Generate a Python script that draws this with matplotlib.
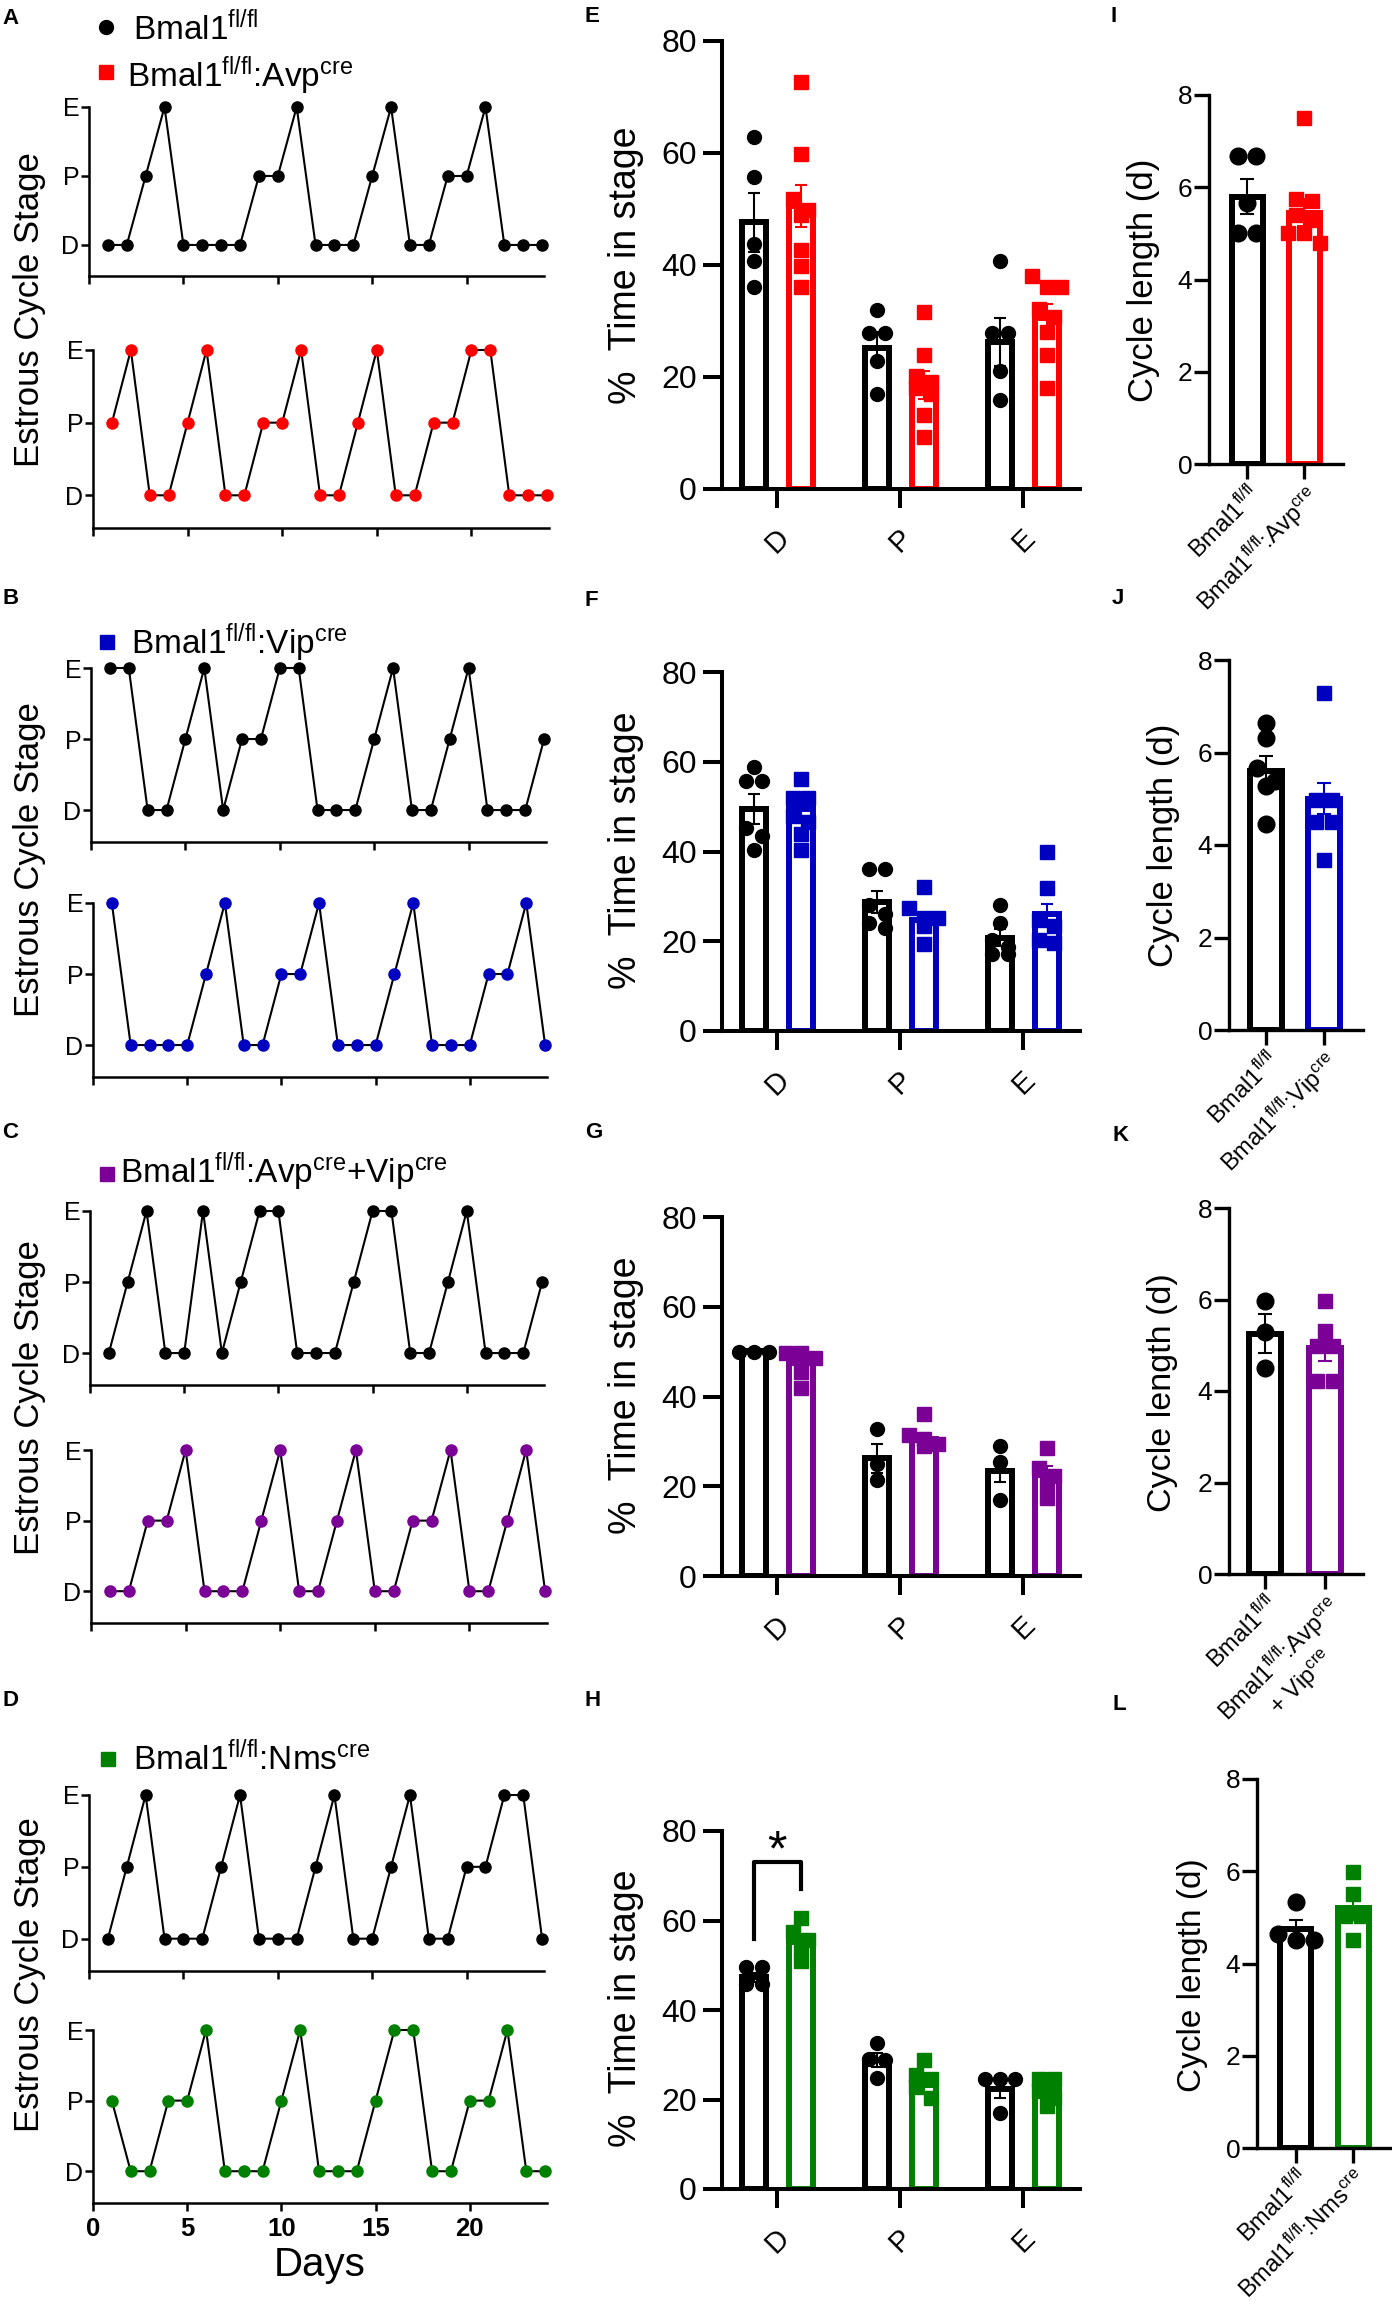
import numpy as np
import matplotlib
matplotlib.use("Agg")
import matplotlib.pyplot as plt
from matplotlib.lines import Line2D

plt.rcParams['font.family'] = ['Liberation Sans', 'DejaVu Sans']
plt.rcParams['mathtext.fontset'] = 'custom'
plt.rcParams['mathtext.rm'] = 'Liberation Sans'
plt.rcParams['mathtext.default'] = 'regular'

W, H, DPI = 1392, 2318, 100

RED = '#ff0000'
BLUE = '#0000c0'
PURPLE = '#7a0096'
GREEN = '#008000'

# daily estrous stage, days 1..24 (A-D)
days = np.arange(1, 25)
stage_level = {'D': 0, 'P': 1, 'E': 2}
stage_a_ctrl = "DDPEDDDDPPEDDDPEDDPPEDDD"
stage_a_ko = "PEDDPEDDPPEDDPEDDPPEEDDD"
stage_b_ctrl = "EEDDPEDPPEEDDDPEDDPEDDDP"
stage_b_ko = "EDDDDPEDDPPEDDDPEDDDPPED"
stage_c_ctrl = "DPEDDEDPEEDDDPEEDDPEDDDP"
stage_c_ko = "DDPPEDDDPEDDPEDDPPEDDPED"
stage_d_ctrl = "DPEDDDPEDDDPEDDPEDDPPEED"
stage_d_ko = "PDDPPEDDDPEDDDPEEDDPPEDD"

# % time in stage (E-H), order D, P, E
stages = ['D', 'P', 'E']

e_ctrl_mean = [47.6, 25.2, 26.2]
e_ctrl_sem = [5.2, 2.8, 4.3]
e_ctrl_pts = [[62.9, 55.8, 43.8, 40.8, 36.1],
              [31.9, 27.9, 27.9, 22.9, 16.9],
              [40.8, 27.8, 27.8, 21.0, 15.9]]
e_ko_mean = [50.5, 18.5, 30.6]
e_ko_sem = [3.7, 2.5, 2.5]
e_ko_pts = [[72.6, 59.8, 51.8, 49.9, 48.9, 42.7, 39.8, 36.1],
            [31.6, 23.9, 20.1, 19.1, 18.1, 16.9, 13.3, 9.2],
            [38.0, 36.1, 36.1, 32.2, 30.8, 28.1, 23.9, 18.1]]

f_ctrl_mean = [49.5, 28.7, 20.8]
f_ctrl_sem = [3.3, 2.5, 1.9]
f_ctrl_pts = [[58.9, 55.7, 55.7, 45.3, 43.4, 40.3],
              [36.0, 36.0, 28.0, 26.0, 24.1, 23.0],
              [28.0, 24.1, 20.2, 18.7, 17.1, 17.1]]
f_ko_mean = [49.5, 24.8, 26.0]
f_ko_sem = [2.0, 1.5, 2.3]
f_ko_pts = [[56.1, 51.9, 51.9, 48.0, 46.5, 44.0, 40.3],
            [32.1, 27.4, 25.2, 25.2, 23.5, 19.4],
            [39.9, 31.9, 24.8, 23.3, 20.2, 19.5]]

g_ctrl_mean = [50.2, 26.2, 23.5]
g_ctrl_sem = [0.1, 3.3, 2.5]
g_ctrl_pts = [[50.0, 50.0, 50.0],
              [32.7, 25.0, 21.4],
              [29.0, 25.4, 17.0]]
g_ko_mean = [47.5, 30.6, 22.6]
g_ko_sem = [1.5, 1.3, 2.0]
g_ko_pts = [[49.8, 49.8, 48.6, 45.4, 41.8],
            [36.2, 31.5, 30.5, 29.4, 29.0],
            [28.6, 24.0, 22.2, 20.6, 17.4]]

h_ctrl_mean = [47.3, 28.8, 22.3]
h_ctrl_sem = [1.0, 1.6, 1.9]
h_ctrl_pts = [[49.6, 49.6, 45.9, 45.9],
              [32.7, 29.0, 28.8, 24.8],
              [24.6, 24.6, 24.6, 16.9]]
h_ko_mean = [55.2, 23.2, 22.3]
h_ko_sem = [1.8, 1.5, 1.3]
h_ko_pts = [[60.6, 57.5, 55.7, 53.8, 51.0],
            [28.8, 25.5, 24.6, 22.7, 20.4],
            [24.6, 24.6, 21.8, 20.4, 18.6]]

# cycle length in days (I-L), order control, knockout
i_mean = [5.79, 5.45]
i_sem = [0.38, 0.30]
i_pts = [[6.68, 6.68, 5.65, 5.0, 5.0],
         [7.5, 5.75, 5.7, 5.4, 5.3, 5.0, 5.0, 4.8]]
j_mean = [5.59, 5.0]
j_sem = [0.34, 0.33]
j_pts = [[6.63, 6.31, 5.67, 5.39, 5.27, 4.46],
         [7.29, 4.98, 4.98, 4.5, 4.5, 3.68]]
k_mean = [5.25, 4.94]
k_sem = [0.43, 0.28]
k_pts = [[5.97, 5.29, 4.5],
         [5.97, 5.31, 4.98, 4.98, 4.21, 4.21]]
l_mean = [4.75, 5.2]
l_sem = [0.2, 0.26]
l_pts = [[5.33, 4.65, 4.52, 4.52],
         [5.98, 5.51, 5.03, 5.03, 4.52]]

ctrl_name = 'Bmal1$^{fl/fl}$'
avp_name = 'Bmal1$^{fl/fl}$:Avp$^{cre}$'
vip_name = 'Bmal1$^{fl/fl}$:Vip$^{cre}$'
both_name = 'Bmal1$^{fl/fl}$:Avp$^{cre}$+Vip$^{cre}$'
nms_name = 'Bmal1$^{fl/fl}$:Nms$^{cre}$'

fig = plt.figure(figsize=(W / DPI, H / DPI), dpi=DPI)


def px_axes(l, t, r, b):
    return fig.add_axes([l / W, 1 - b / H, (r - l) / W, (b - t) / H])


def ftext(x, y, s, **kw):
    return fig.text(x / W, 1 - y / H, s, **kw)


def fmarker(x, y, marker, color):
    fig.add_artist(Line2D([x / W], [1 - y / H], transform=fig.transFigure,
                          marker=marker, ms=10, ls='', color=color))


def style(ax, lw, ticklen):
    for side in ['top', 'right']:
        ax.spines[side].set_visible(False)
    for side in ['left', 'bottom']:
        ax.spines[side].set_linewidth(lw)
    ax.tick_params(direction='out', length=ticklen, width=lw)


# Function: stage_plot
# Description: one estrous trace, day vs stage
def stage_plot(rect, seq, color, xlabels=False):
    ax = px_axes(*rect)
    y = [stage_level[s] for s in seq]
    ax.plot(days, y, color='black', lw=1.5, marker='o', ms=8,
            mfc=color, mec=color, clip_on=False, zorder=3)
    ax.set_xlim(0, 24.1)
    ax.set_ylim(-0.45, 2)
    ax.set_yticks([0, 1, 2])
    ax.set_yticklabels(['D', 'P', 'E'])
    ax.set_xticks([0, 5, 10, 15, 20])
    style(ax, 1.8, 6)
    ax.tick_params(axis='y', labelsize=18, pad=1)
    if xlabels:
        ax.tick_params(axis='x', labelsize=18.5, pad=4)
        for lab in ax.get_xticklabels():
            lab.set_fontweight('bold')
        ax.set_xlabel('Days', fontsize=29, labelpad=4)
    else:
        ax.set_xticklabels([])
    return ax


# spread points with close values into centred rows
def swarm(vals, center, ax, ms):
    vals = np.asarray(vals, float)
    pos = ax.get_position()
    xl, yl = ax.get_xlim(), ax.get_ylim()
    ppx = pos.width * W / (xl[1] - xl[0])
    ppy = pos.height * H / (yl[1] - yl[0])
    d = ms * DPI / 72.0
    order = np.argsort(-vals)
    rows, cur = [], [order[0]]
    for i in order[1:]:
        if (vals[cur[0]] - vals[i]) * ppy < 0.8 * d:
            cur.append(i)
        else:
            rows.append(cur)
            cur = [i]
    rows.append(cur)
    xs = np.full(len(vals), float(center))
    for r in rows:
        k = len(r)
        for j, i in enumerate(r):
            xs[i] = center + (j - (k - 1) / 2) * 1.1 * d / ppx
    return xs


def bar_set(ax, xs, means, sems, pts, color, marker, width, lw, ms, cap):
    ax.bar(xs, means, width, facecolor='white', edgecolor=color, linewidth=lw, zorder=1)
    for x, p in zip(xs, pts):
        px = swarm(p, x, ax, ms)
        ax.plot(px, p, ls='', marker=marker, ms=ms, color=color, zorder=3, clip_on=False)
    ax.errorbar(xs, means, yerr=sems, fmt='none', ecolor=color, elinewidth=1.5,
                capsize=cap, capthick=1.5, zorder=4)


# Function: pct_plot
# Description: % time in each stage, control vs knockout
def pct_plot(rect, cm, cs, cp, km, ks, kp, color):
    ax = px_axes(*rect)
    ax.set_xlim(-0.45, 2.46)
    ax.set_ylim(0, 80)
    x = np.arange(3)
    bar_set(ax, x - 0.19, cm, cs, cp, 'black', 'o', 0.195, 4.3, 10, 4.3)
    bar_set(ax, x + 0.19, km, ks, kp, color, 's', 0.195, 4.3, 9.6, 4.3)
    ax.set_yticks([0, 20, 40, 60, 80])
    ax.set_xticks(x)
    ax.set_xticklabels(stages, rotation=45, ha='center', va='top')
    style(ax, 2.9, 14)
    ax.tick_params(axis='y', labelsize=23, pad=4)
    ax.tick_params(axis='x', labelsize=21, pad=11)
    return ax


# Function: cycle_plot
# Description: cycle length bars, control vs knockout
def cycle_plot(rect, xlim, means, sems, pts, color, labels):
    ax = px_axes(*rect)
    ax.set_xlim(*xlim)
    ax.set_ylim(0, 8)
    bar_set(ax, [0], means[:1], sems[:1], pts[:1], 'black', 'o', 0.54, 4.3, 12, 5)
    bar_set(ax, [1], means[1:], sems[1:], pts[1:], color, 's', 0.54, 4.3, 10.5, 5)
    ax.set_yticks([0, 2, 4, 6, 8])
    ax.set_xticks([0, 1])
    ax.set_xticklabels(labels, rotation=45, ha='right', va='top',
                       rotation_mode='anchor', multialignment='center')
    style(ax, 2.4, 11)
    ax.tick_params(axis='y', labelsize=19, pad=1)
    ax.tick_params(axis='x', labelsize=17, pad=2)
    return ax


# ---- column 1: estrous traces ----
stage_plot((89, 107, 544, 276), stage_a_ctrl, 'black')
stage_plot((93, 350, 549, 528), stage_a_ko, RED)
stage_plot((91, 668, 546, 842), stage_b_ctrl, 'black')
stage_plot((93, 903, 547, 1077), stage_b_ko, BLUE)
stage_plot((90, 1211, 544, 1385), stage_c_ctrl, 'black')
stage_plot((91, 1450, 547, 1623), stage_c_ko, PURPLE)
stage_plot((89, 1795, 544, 1971), stage_d_ctrl, 'black')
stage_plot((93, 2030, 547, 2203), stage_d_ko, GREEN, xlabels=True)

for yc in [310, 860, 1398, 1975]:
    ftext(30, yc, 'Estrous Cycle Stage', fontsize=25, rotation=90, ha='center', va='center')

# legends
fmarker(106, 27, 'o', 'black')
ftext(133, 39.5, ctrl_name, fontsize=24, va='baseline')
fmarker(106, 72, 's', RED)
ftext(127, 87, avp_name, fontsize=24, va='baseline')
fmarker(107, 642, 's', BLUE)
ftext(131, 654, vip_name, fontsize=24, va='baseline')
fmarker(107, 1174, 's', PURPLE)
ftext(120, 1183, both_name, fontsize=24, va='baseline')
fmarker(108, 1759, 's', GREEN)
ftext(133, 1770, nms_name, fontsize=24, va='baseline')

# ---- column 2: % time in stage ----
pct_plot((722, 41, 1080, 489), e_ctrl_mean, e_ctrl_sem, e_ctrl_pts, e_ko_mean, e_ko_sem, e_ko_pts, RED)
pct_plot((722, 672, 1080, 1031), f_ctrl_mean, f_ctrl_sem, f_ctrl_pts, f_ko_mean, f_ko_sem, f_ko_pts, BLUE)
pct_plot((722, 1217, 1080, 1576), g_ctrl_mean, g_ctrl_sem, g_ctrl_pts, g_ko_mean, g_ko_sem, g_ko_pts, PURPLE)
ax_h = pct_plot((722, 1831, 1080, 2189), h_ctrl_mean, h_ctrl_sem, h_ctrl_pts, h_ko_mean, h_ko_sem, h_ko_pts, GREEN)

# significance bracket, D stage in H
ax_h.plot([-0.19, -0.19, 0.19, 0.19], [55.8, 73, 73, 67], color='black', lw=3, clip_on=False, zorder=5)
ax_h.text(0, 72.3, '*', fontsize=36, ha='center', va='baseline')

for yc in [265, 850, 1395, 2008]:
    ftext(626, yc, '%  Time in stage', fontsize=27, rotation=90, ha='center', va='center')

# ---- column 3: cycle length ----
cycle_plot((1209, 95, 1343, 464), (-0.67, 1.68), i_mean, i_sem, i_pts, RED, [ctrl_name, avp_name])
cycle_plot((1229, 660, 1363, 1030), (-0.64, 1.67), j_mean, j_sem, j_pts, BLUE, [ctrl_name, vip_name])
cycle_plot((1229, 1208, 1363, 1574), (-0.6, 1.63), k_mean, k_sem, k_pts, PURPLE,
           [ctrl_name, avp_name + '\n+ Vip$^{cre}$'])
cycle_plot((1257, 1779, 1392, 2148), (-0.68, 1.68), l_mean, l_sem, l_pts, GREEN, [ctrl_name, nms_name])

ftext(1143, 280, 'Cycle length (d)', fontsize=25, rotation=90, ha='center', va='center')
ftext(1163, 845, 'Cycle length (d)', fontsize=25, rotation=90, ha='center', va='center')
ftext(1163, 1393, 'Cycle length (d)', fontsize=24.5, rotation=90, ha='center', va='center')
ftext(1192, 1975, 'Cycle length (d)', fontsize=24, rotation=90, ha='center', va='center')

# panel letters
letters = [('A', 2, 18), ('B', 2, 599), ('C', 2, 1133), ('D', 2, 1700),
           ('E', 585, 17), ('F', 585, 600), ('G', 585, 1133), ('H', 585, 1701),
           ('I', 1110, 17), ('J', 1112, 599), ('K', 1113, 1136), ('L', 1113, 1705)]
for s, x, y in letters:
    ftext(x, y, s, fontsize=16, fontweight='bold', ha='left', va='center')

fig.savefig('out.png', dpi=DPI)
